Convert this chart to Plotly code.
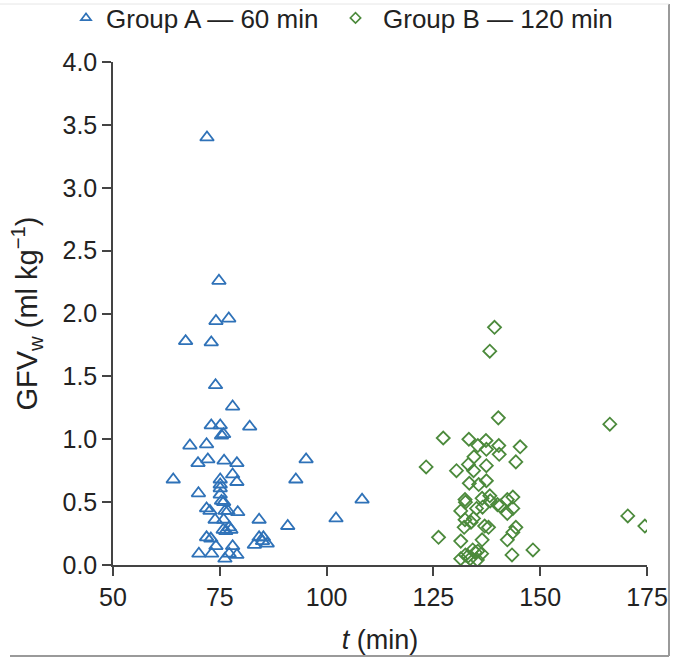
import plotly.graph_objects as go

# Group A — 60 min
a_t = [72.0, 74.8, 74.1, 77.1, 67.0, 73.0, 74.0, 78.0, 73.0, 75.1, 82.0, 75.4, 75.9,
       68.0, 71.9, 72.2, 69.9, 76.0, 79.0, 78.0, 79.0, 64.1, 75.1, 75.1, 75.1, 70.0,
       75.1, 75.4, 75.9, 71.9, 72.7, 76.2, 76.9, 79.2, 73.9, 75.9, 84.2, 90.9, 77.2,
       75.8, 76.4, 77.6, 71.9, 72.9, 74.1, 78.0, 83.1, 84.2, 85.2, 86.1, 85.0, 70.1,
       73.1, 79.0, 76.2, 77.2, 92.8, 95.2, 102.2, 108.3]
a_gfv = [3.40, 2.26, 1.94, 1.96, 1.78, 1.77, 1.43, 1.26, 1.11, 1.11, 1.10, 1.03, 1.04,
         0.95, 0.96, 0.84, 0.81, 0.83, 0.81, 0.72, 0.66, 0.68, 0.68, 0.64, 0.61, 0.57,
         0.56, 0.51, 0.50, 0.45, 0.43, 0.43, 0.43, 0.42, 0.36, 0.36, 0.36, 0.31, 0.30,
         0.28, 0.27, 0.28, 0.22, 0.21, 0.15, 0.15, 0.16, 0.22, 0.22, 0.17, 0.19, 0.09,
         0.09, 0.08, 0.05, 0.09, 0.68, 0.84, 0.37, 0.52]

# Group B — 120 min
b_t = [139.3, 138.2, 140.2, 166.3, 127.3, 133.3, 135.4, 137.3, 137.4, 140.3, 145.3,
       140.4, 134.5, 133.2, 137.4, 144.3, 123.3, 130.4, 134.4, 133.4, 135.6, 137.4,
       132.4, 132.5, 136.4, 138.2, 138.3, 140.0, 140.6, 142.3, 143.6, 131.4, 135.1,
       136.5, 143.6, 142.3, 132.4, 134.4, 133.8, 132.2, 137.0, 137.9, 144.3, 143.6,
       142.3, 126.2, 131.4, 136.4, 148.3, 143.4, 170.5, 174.5, 131.4, 132.5, 133.6,
       134.2, 134.8, 135.4, 136.3, 135.3, 133.1]
b_gfv = [1.89, 1.70, 1.17, 1.12, 1.01, 1.00, 0.95, 0.99, 0.92, 0.95, 0.94,
         0.88, 0.86, 0.80, 0.79, 0.82, 0.78, 0.75, 0.75, 0.65, 0.64, 0.67,
         0.52, 0.50, 0.53, 0.55, 0.51, 0.48, 0.47, 0.52, 0.54, 0.43, 0.45,
         0.46, 0.45, 0.41, 0.36, 0.37, 0.34, 0.30, 0.31, 0.30, 0.30, 0.26,
         0.20, 0.22, 0.19, 0.20, 0.12, 0.08, 0.39, 0.31, 0.05, 0.08, 0.05,
         0.12, 0.10, 0.11, 0.09, 0.04, 0.07]

x_ticks = [50, 75, 100, 125, 150, 175]
y_ticks = [0.0, 0.5, 1.0, 1.5, 2.0, 2.5, 3.0, 3.5, 4.0]

blue = "#2f72b8"
green = "#4c8a3c"
axis_col = "#444444"
txt = "#222222"
font = "Liberation Sans, Arial, Helvetica, sans-serif"

ML, MR, MT, MB = 113, 26, 62, 93
W, H = 673, 658

pw = W - ML - MR
ph = H - MT - MB
def px_to_paper_x(px):
    return (px - ML) / pw
def px_to_paper_y(py):
    return (H - MB - py) / ph

fig = go.Figure()
fig.add_trace(go.Scatter(
    x=a_t, y=a_gfv, mode="markers", name="Group A — 60 min", showlegend=False,
    marker=dict(symbol="triangle-up-open", size=12, color=blue, line=dict(width=1.8, color=blue)),
))
fig.add_trace(go.Scatter(
    x=b_t, y=b_gfv, mode="markers", name="Group B — 120 min", showlegend=False,
    marker=dict(symbol="diamond-open", size=10, color=green, line=dict(width=1.8, color=green)),
))
# legend entries (smaller symbols, as in the original key)
fig.add_trace(go.Scatter(
    x=[None], y=[None], mode="markers", name="Group A — 60 min", legend="legend",
    marker=dict(symbol="triangle-up-open", size=9, color=blue, line=dict(width=1.6, color=blue)),
))
fig.add_trace(go.Scatter(
    x=[None], y=[None], mode="markers", name="Group B — 120 min", legend="legend2",
    marker=dict(symbol="diamond-open", size=8, color=green, line=dict(width=1.6, color=green)),
))

leg_common = dict(orientation="h", yanchor="middle", y=px_to_paper_y(18),
                  xanchor="left", font=dict(size=26, color=txt),
                  bgcolor="rgba(0,0,0,0)")

fig.update_layout(
    width=W, height=H,
    margin=dict(l=ML, r=MR, t=MT, b=MB, autoexpand=False),
    paper_bgcolor="white", plot_bgcolor="white",
    font=dict(family=font, size=25, color=txt),
    showlegend=True,
    legend=dict(x=px_to_paper_x(66), **leg_common),
    legend2=dict(x=px_to_paper_x(328), itemwidth=45, **leg_common),
    xaxis=dict(
        range=[50, 175], tickvals=x_ticks, ticktext=[str(v) for v in x_ticks],
        showgrid=False, zeroline=False, showline=True, linecolor=axis_col, linewidth=1.5,
        ticks="outside", ticklen=9, tickwidth=1.5, tickcolor=axis_col,
        tickfont=dict(size=25, color=txt),
        title=dict(text="<i>t</i> (min)", font=dict(size=27, color=txt), standoff=20),
    ),
    yaxis=dict(
        range=[0, 4], tickvals=y_ticks, ticktext=[f"{v:.1f}" for v in y_ticks],
        showgrid=False, zeroline=False, showline=True, linecolor=axis_col, linewidth=1.5,
        ticks="outside", ticklen=9, tickwidth=1.5, tickcolor=axis_col,
        tickfont=dict(size=25, color=txt),
        title=dict(text="GFV<sub>w</sub> (ml kg<sup>−1</sup>)", font=dict(size=29, color=txt), standoff=16),
    ),
)

# picture frame (light gray border, right and bottom darker)
fig.add_shape(type="line", xref="paper", yref="paper",
              x0=px_to_paper_x(669), x1=px_to_paper_x(669),
              y0=px_to_paper_y(4), y1=px_to_paper_y(656),
              line=dict(color="#9a9a9a", width=2))
fig.add_shape(type="line", xref="paper", yref="paper",
              x0=px_to_paper_x(10), x1=px_to_paper_x(669),
              y0=px_to_paper_y(656), y1=px_to_paper_y(656),
              line=dict(color="#9a9a9a", width=2))
fig.add_shape(type="line", xref="paper", yref="paper",
              x0=px_to_paper_x(0), x1=px_to_paper_x(669),
              y0=px_to_paper_y(4), y1=px_to_paper_y(4),
              line=dict(color="#e6e6e6", width=1))

fig.write_html("out.html", config={"displayModeBar": False},
               post_script="document.body.style.margin='0';document.body.style.overflow='hidden';")
